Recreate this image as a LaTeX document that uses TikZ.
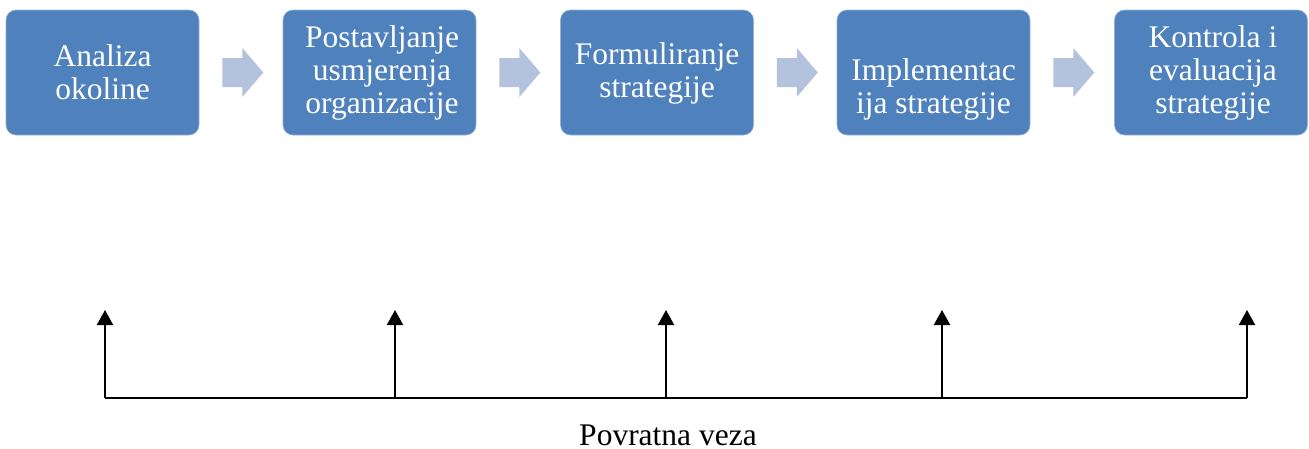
\documentclass[tikz,border=0pt]{standalone}
\usepackage{fontspec}
\setmainfont{Liberation Serif}
\usetikzlibrary{arrows.meta}
\definecolor{boxblue}{HTML}{4F81BD}
\definecolor{arrowblue}{HTML}{B3C2DD}
\begin{document}
\begin{tikzpicture}[x=1pt,y=-1pt,
  stage/.style={fill=boxblue,draw=boxblue!60!white,line width=0.6pt,rounded corners=10pt,
    minimum width=193pt,minimum height=125pt,inner sep=0pt},
  stagetext/.style={text=white,align=center,anchor=base,inner sep=0pt,
    font=\fontsize{31.5}{32.7}\selectfont},
  feedback/.style={line width=2pt,-{Triangle[width=16pt,length=15pt]}},
  base/.style={line width=2pt}]
\useasboundingbox (0,0) rectangle (1309,448);

% process stages
\node[stage] (s1) at (102.5,72.5) {};
\node[stage] (s2) at (379.5,72.5) {};
\node[stage] (s3) at (657,72.5) {};
\node[stage] (s4) at (933.5,72.5) {};
\node[stage] (s5) at (1211,72.5) {};

% stage labels (anchored at the baseline of the last line)
\node[stagetext] (t1) at (102.5,99) {Analiza\\okoline};
\node[stagetext] (t2) at (382,113) {Postavljanje\\usmjerenja\\organizacije};
\node[stagetext] (t3) at (657,97) {Formuliranje\\strategije};
\node[stagetext] (t4) at (933.5,113) {Implementac\\ija strategije};
\node[stagetext] (t5) at (1213,113) {Kontrola i\\evaluacija\\strategije};

% block arrows between stages
\foreach \a/\b in {s1/s2,s2/s3,s3/s4,s4/s5}{
  \path (\a.east) ++(23,0) coordinate (p);
  \fill[arrowblue] (p) ++(0,-14.5) -- ++(20,0) -- ++(0,-10) -- ++(21,24.5)
    -- ++(-21,24.5) -- ++(0,-10) -- ++(-20,0) -- cycle;
}

% feedback loop
\coordinate (f1) at (105,398);
\coordinate (f2) at (395,398);
\coordinate (f3) at (666,398);
\coordinate (f4) at (942,398);
\coordinate (f5) at (1247,398);
\foreach \i in {1,...,5}{
  \path (f\i) ++(0,-88) coordinate (h\i);
  \draw[feedback] (f\i) -- (h\i);
}
\draw[base] (f1) -- (f5);
\node[anchor=base,inner sep=0pt,font=\fontsize{31.5}{32.7}\selectfont] (lbl) at (668,445) {Povratna veza};
\end{tikzpicture}
\end{document}
